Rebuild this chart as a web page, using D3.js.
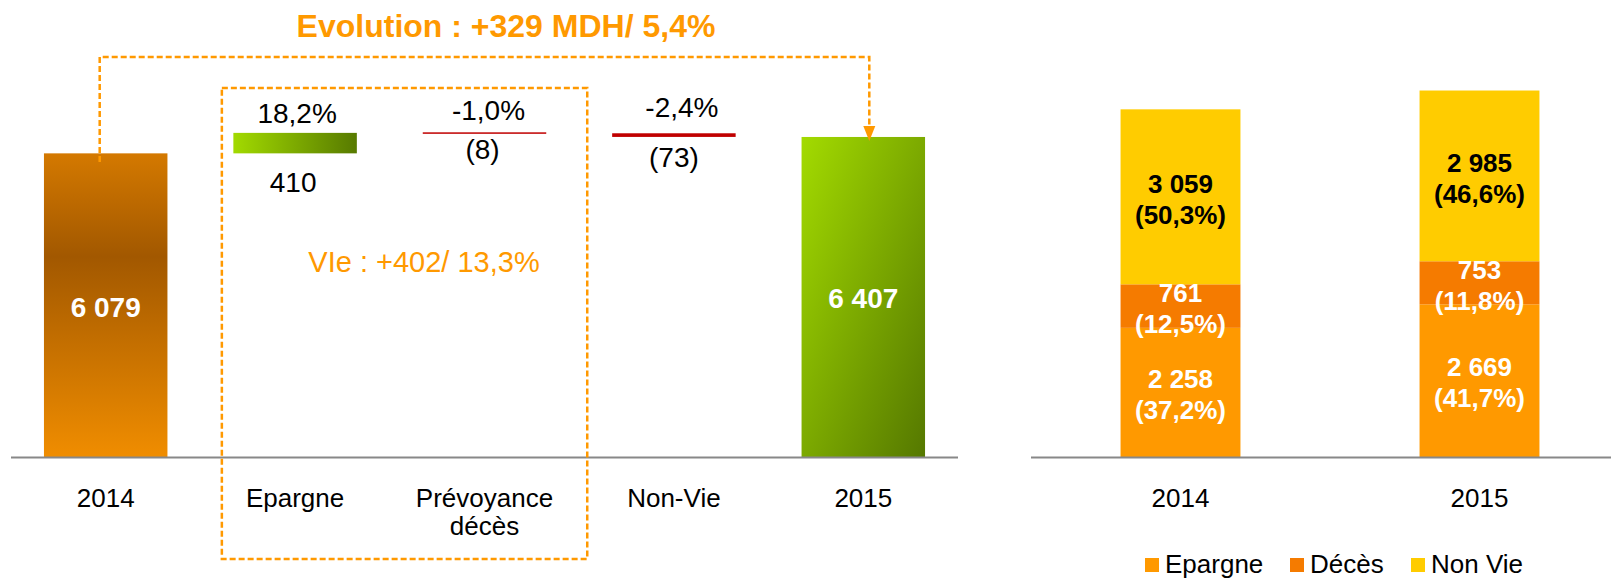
<!DOCTYPE html>
<html>
<head>
<meta charset="utf-8">
<script src="https://cdn.jsdelivr.net/npm/d3@7"></script>
<style>
  html, body { margin: 0; padding: 0; background: #fff; }
  svg { display: block; font-family: "Liberation Sans", Arial, sans-serif; }
</style>
</head>
<body>
<svg id="chart" width="1611" height="579"></svg>
<script>
// ---------- DATA ----------
const wfCategories = ["2014", "Epargne", "Prévoyance|décès", "Non-Vie", "2015"];
const wfTypes      = ["total", "delta", "delta", "delta", "total"];
const wfValues     = [6079, 410, -8, -73, 6407];
const wfPctLabels  = ["", "18,2%", "-1,0%", "-2,4%", ""];
const wfValLabels  = ["6 079", "410", "(8)", "(73)", "6 407"];
const titleText    = "Evolution : +329 MDH/ 5,4%";
const vieText      = "VIe : +402/ 13,3%";

const stYears      = ["2014", "2015"];
const stSeries     = ["Epargne", "Décès", "Non Vie"];
const stEpargne    = [2258, 2669];
const stDeces      = [761, 753];
const stNonVie     = [3059, 2985];
const stEpargnePct = ["(37,2%)", "(41,7%)"];
const stDecesPct   = ["(12,5%)", "(11,8%)"];
const stNonViePct  = ["(50,3%)", "(46,6%)"];
const stValLabels  = [["2 258", "2 669"], ["761", "753"], ["3 059", "2 985"]];

// ---------- LAYOUT ----------
const svg = d3.select("#chart");
const ORANGE = "#FF9900";
const base = 457;

const defs = svg.append("defs");
const g2014 = defs.append("linearGradient").attr("id", "g2014")
  .attr("x1", 0).attr("y1", 0).attr("x2", 0).attr("y2", 1);
g2014.append("stop").attr("offset", "0%").attr("stop-color", "#D47900");
g2014.append("stop").attr("offset", "34%").attr("stop-color", "#A25800");
g2014.append("stop").attr("offset", "100%").attr("stop-color", "#F08D00");
const g2015 = defs.append("linearGradient").attr("id", "g2015")
  .attr("x1", 0).attr("y1", 0).attr("x2", 1).attr("y2", 1);
g2015.append("stop").attr("offset", "0%").attr("stop-color", "#A3DB00");
g2015.append("stop").attr("offset", "100%").attr("stop-color", "#557800");
const gPos = defs.append("linearGradient").attr("id", "gPos")
  .attr("x1", 0).attr("y1", 0).attr("x2", 1).attr("y2", 0);
gPos.append("stop").attr("offset", "0%").attr("stop-color", "#A2DA00");
gPos.append("stop").attr("offset", "100%").attr("stop-color", "#577A00");

// ----- Left waterfall -----
const x1 = d3.scaleBand().domain(wfCategories).range([11, 958])
  .paddingInner(0.348).paddingOuter(0.174);
const y1 = d3.scaleLinear().domain([0, 7000]).range([base, base - 7000 * 0.04995]);

let running = 0;
const wf = wfCategories.map((c, i) => {
  let lo, hi;
  if (wfTypes[i] === "total") { lo = 0; hi = wfValues[i]; running = wfValues[i]; }
  else { const s = running, e = running + wfValues[i]; lo = Math.min(s, e); hi = Math.max(s, e); running = e; }
  return { c, i, lo, hi, v: wfValues[i], type: wfTypes[i] };
});

svg.append("g").selectAll("rect").data(wf).join("rect")
  .attr("x", d => x1(d.c))
  .attr("width", x1.bandwidth())
  .attr("y", d => {
    const h = Math.max(y1(d.lo) - y1(d.hi), 1.5);
    return y1(d.hi) - (h - (y1(d.lo) - y1(d.hi))) / 2;
  })
  .attr("height", d => Math.max(y1(d.lo) - y1(d.hi), 1.5))
  .attr("fill", d => d.type === "total" ? (d.i === 0 ? "url(#g2014)" : "url(#g2015)")
                                         : (d.v >= 0 ? "url(#gPos)" : "#C00000"));

// axis lines
svg.append("line").attr("x1", 11).attr("x2", 958).attr("y1", base + 0.5).attr("y2", base + 0.5)
  .attr("stroke", "#888").attr("stroke-width", 2);

// category labels
const catG = svg.append("g");
wfCategories.forEach(c => {
  const t = catG.append("text").attr("x", x1(c) + x1.bandwidth() / 2).attr("y", 507)
    .attr("text-anchor", "middle").attr("font-size", 26).attr("fill", "#000");
  c.split("|").forEach((line, k) => {
    t.append("tspan").attr("x", x1(c) + x1.bandwidth() / 2).attr("dy", k === 0 ? 0 : 28).text(line);
  });
});

// value labels
const pctY = [0, 123, 120, 117, 0];
const pctDx = [0, 2, 4, 8, 0];
const valY = [317, 192, 159, 167, 308];
const valDx = [0, -2, -2, 0, 0];
wf.forEach((d, i) => {
  const cx = x1(d.c) + x1.bandwidth() / 2;
  if (wfPctLabels[i]) {
    svg.append("text").attr("x", cx + pctDx[i]).attr("y", pctY[i])
      .attr("text-anchor", "middle").attr("font-size", 28).attr("fill", "#000").text(wfPctLabels[i]);
  }
  const total = d.type === "total";
  svg.append("text").attr("x", cx + valDx[i]).attr("y", valY[i])
    .attr("text-anchor", "middle").attr("font-size", 28)
    .attr("font-weight", total ? "bold" : "normal")
    .attr("fill", total ? "#fff" : "#000").text(wfValLabels[i]);
});

// title
svg.append("text").attr("x", 506).attr("y", 37).attr("text-anchor", "middle")
  .attr("font-size", 32).attr("font-weight", "bold").attr("fill", ORANGE).text(titleText);

// outer connector
const cx2014 = x1("2014") + x1.bandwidth() / 2 - 6;
const cx2015 = x1("2015") + x1.bandwidth() / 2 + 6;
svg.append("path")
  .attr("d", `M${cx2014},162 V57 H${cx2015} V128`)
  .attr("fill", "none").attr("stroke", ORANGE).attr("stroke-width", 2.5)
  .attr("stroke-dasharray", "6,3");
svg.append("path")
  .attr("d", `M${cx2015 - 6},126 L${cx2015 + 6},126 L${cx2015},141 Z`)
  .attr("fill", ORANGE);

// inner dashed box
const bx0 = x1("Epargne") - 11.5;
const bx1 = x1("Prévoyance|décès") + x1.bandwidth() + 41;
svg.append("rect").attr("x", bx0).attr("y", 88).attr("width", bx1 - bx0).attr("height", 559 - 88)
  .attr("fill", "none").attr("stroke", ORANGE).attr("stroke-width", 2.5).attr("stroke-dasharray", "6,3");
svg.append("text").attr("x", 424).attr("y", 272).attr("text-anchor", "middle")
  .attr("font-size", 29).attr("fill", ORANGE).text(vieText);

// ----- Right stacked -----
const x2 = d3.scaleBand().domain(stYears).range([1031, 1629]).paddingInner(0.599).paddingOuter(0.2995);
const y2 = d3.scaleLinear().domain([0, 7000]).range([base, base - 7000 * 0.0572]);
const colors = { "Epargne": "#FF9900", "Décès": "#F57B00", "Non Vie": "#FFCC00" };
const rows = stYears.map((yr, i) => ({ year: yr, "Epargne": stEpargne[i], "Décès": stDeces[i], "Non Vie": stNonVie[i] }));
const stack = d3.stack().keys(stSeries)(rows);
const pcts = [stEpargnePct, stDecesPct, stNonViePct];
const labelColor = ["#fff", "#fff", "#000"];

stack.forEach((layer) => {
  svg.append("g").selectAll("rect").data(layer).join("rect")
    .attr("x", d => x2(d.data.year))
    .attr("width", x2.bandwidth())
    .attr("y", d => y2(d[1]))
    .attr("height", d => y2(d[0]) - y2(d[1]))
    .attr("fill", colors[layer.key]);
});
stack.forEach((layer, li) => {
  layer.forEach((d, i) => {
    const cx = x2(d.data.year) + x2.bandwidth() / 2;
    const mid = (y2(d[0]) + y2(d[1])) / 2 + 2;
    const t = svg.append("text").attr("text-anchor", "middle").attr("font-size", 26)
      .attr("font-weight", "bold").attr("fill", labelColor[li]);
    t.append("tspan").attr("x", cx).attr("y", mid - 15.5 + 9.3).text(stValLabels[li][i]);
    t.append("tspan").attr("x", cx).attr("y", mid + 15.5 + 9.3).text(pcts[li][i]);
  });
});

svg.append("line").attr("x1", 1031).attr("x2", 1611).attr("y1", base + 0.5).attr("y2", base + 0.5)
  .attr("stroke", "#888").attr("stroke-width", 2);
stYears.forEach(yr => {
  svg.append("text").attr("x", x2(yr) + x2.bandwidth() / 2).attr("y", 507)
    .attr("text-anchor", "middle").attr("font-size", 26).attr("fill", "#000").text(yr);
});

// legend
const legX = [1145, 1290, 1411];
stSeries.forEach((s, i) => {
  svg.append("rect").attr("x", legX[i]).attr("y", 558).attr("width", 14).attr("height", 14)
    .attr("fill", colors[s]);
  svg.append("text").attr("x", legX[i] + 20).attr("y", 573).attr("font-size", 26)
    .attr("fill", "#000").text(s);
});
</script>
</body>
</html>
